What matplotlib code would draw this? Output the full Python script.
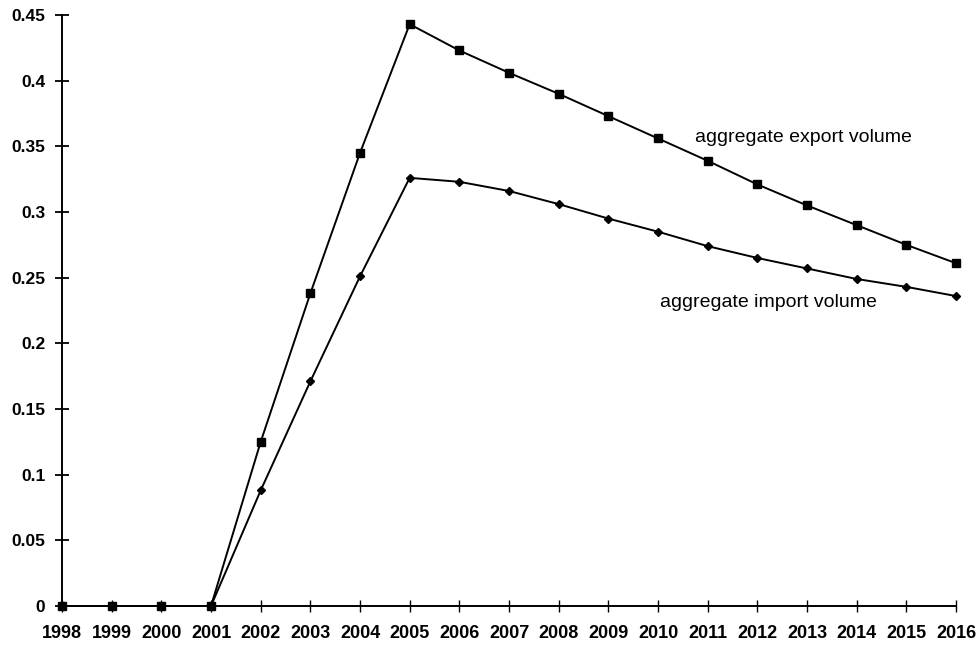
import numpy as np
import matplotlib.pyplot as plt

plt.rcParams['font.family'] = ['Liberation Sans', 'DejaVu Sans']

years = list(range(1998, 2017))
export_vol = [0, 0, 0, 0, 0.125, 0.238, 0.345, 0.443, 0.423, 0.406, 0.390, 0.373,
              0.356, 0.339, 0.321, 0.305, 0.290, 0.275, 0.261]
import_vol = [0, 0, 0, 0, 0.088, 0.171, 0.251, 0.326, 0.323, 0.316, 0.306, 0.295,
              0.285, 0.274, 0.265, 0.257, 0.249, 0.243, 0.236]
yticks = [0, 0.05, 0.1, 0.15, 0.2, 0.25, 0.3, 0.35, 0.4, 0.45]
ytick_labels = ['0', '0.05', '0.1', '0.15', '0.2', '0.25', '0.3', '0.35', '0.4', '0.45']

fig = plt.figure(figsize=(9.8, 6.47), dpi=100)
ax = fig.add_axes([0.0633, 0.0634, 0.9122, 0.9134])

ax.plot(years, export_vol, color='black', lw=1.4, marker='s', markersize=6, clip_on=False)
ax.plot(years, import_vol, color='black', lw=1.4, marker='D', markersize=4.5, clip_on=False)

ax.set_xlim(1998, 2016)
ax.set_ylim(0, 0.45)
ax.set_xticks(years)
ax.set_xticklabels([str(y) for y in years], fontsize=13, fontweight='bold')
ax.set_yticks(yticks)
ax.set_yticklabels(ytick_labels, fontsize=12.5, fontweight='bold')
ax.tick_params(axis='y', direction='inout', length=10, width=1.3, pad=7)
ax.tick_params(axis='x', direction='inout', length=9, width=1, pad=9)

for s in ['top', 'right']:
    ax.spines[s].set_visible(False)
ax.spines['left'].set_linewidth(1.4)
ax.spines['bottom'].set_linewidth(1.4)

#labels
ax.text(2010.75, 0.3565, "aggregate export volume", fontsize=14,
        ha='left', va='center')
ax.text(2010.05, 0.231, "aggregate import volume", fontsize=14,
        ha='left', va='center')

fig.savefig("out.png", dpi=100)
